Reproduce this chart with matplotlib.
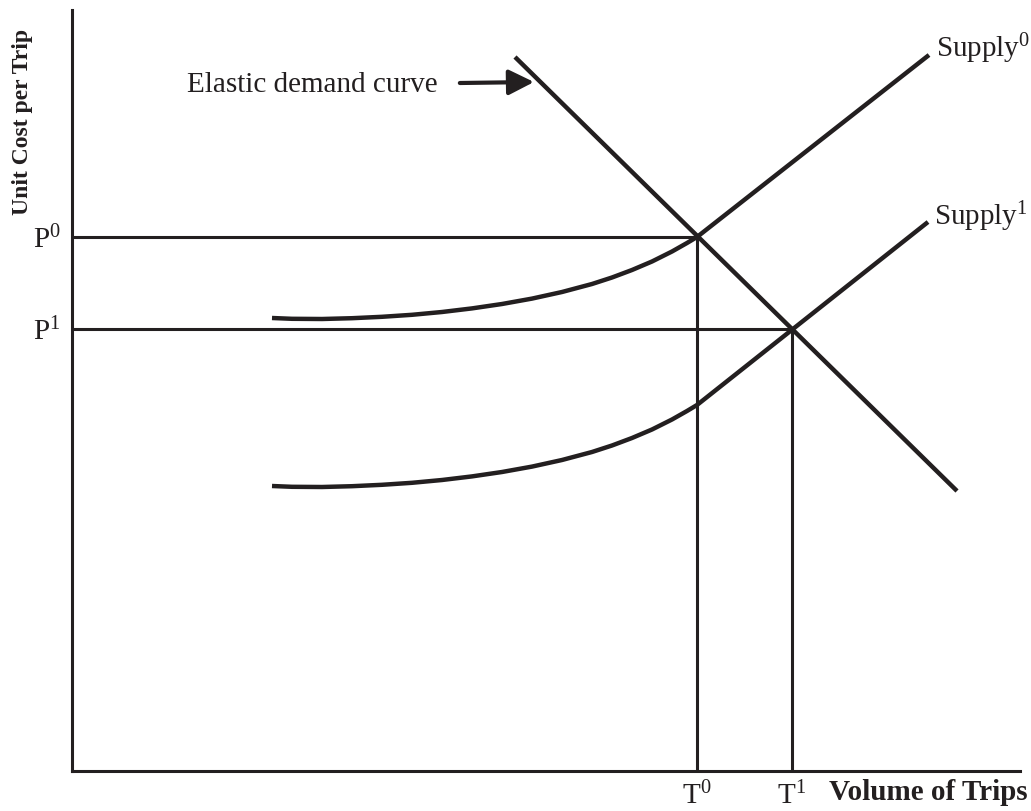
#!/usr/bin/env python3
"""
Supply shift with an elastic demand curve: unit cost per trip
against volume of trips.
"""
import matplotlib.pyplot as plt

plt.rcParams['font.family'] = ['Liberation Serif', 'DejaVu Serif']
plt.rcParams['mathtext.default'] = 'regular'

INK = '#231f20'

# equilibrium prices and volumes
price_labels = ['P$^{1}$', 'P$^{0}$']
prices = [44.2, 53.4]
volume_labels = ['T$^{0}$', 'T$^{1}$']
volumes = [62.5, 72.0]

# elastic demand curve (straight line)
demand_x = [44.3, 88.5]
demand_y = [71.4, 28.0]

# original supply curve: flat, rising, then linear past T0
supply0_x = [20.0, 22.0, 25.0, 28.0, 31.0, 34.0, 37.0, 40.0, 43.0, 46.0,
             49.0, 52.0, 54.0, 56.0, 58.0, 60.0, 61.5, 62.5, 85.7]
supply0_y = [45.30, 45.22, 45.20, 45.28, 45.42, 45.62, 45.90, 46.26, 46.70,
             47.24, 47.90, 48.70, 49.35, 50.10, 50.95, 51.95, 52.80, 53.40,
             71.60]

# shifted supply curve
supply1_x = [20.0, 22.0, 25.0, 28.0, 31.0, 34.0, 37.0, 40.0, 43.0, 46.0,
             49.0, 52.0, 54.0, 56.0, 58.0, 60.0, 61.5, 62.5, 85.6]
supply1_y = [28.50, 28.42, 28.40, 28.48, 28.62, 28.82, 29.10, 29.46, 29.90,
             30.44, 31.10, 31.90, 32.55, 33.30, 34.15, 35.15, 36.00, 36.60,
             54.90]

fig = plt.figure(figsize=(10.31, 8.11), dpi=100)
ax = fig.add_axes([72 / 1031, 40 / 811, 948 / 1031, 761 / 811])
ax.set_xlim(0, 94.8)
ax.set_ylim(0, 76.1)

for side in ['top', 'right']:
    ax.spines[side].set_visible(False)
for side in ['left', 'bottom']:
    ax.spines[side].set_linewidth(2.2)
    ax.spines[side].set_color(INK)

# reference lines from axes to the equilibria
ax.plot([0, volumes[0]], [prices[1], prices[1]], color=INK, lw=2.2)
ax.plot([0, volumes[1]], [prices[0], prices[0]], color=INK, lw=2.2)
ax.plot([volumes[0], volumes[0]], [0, prices[1]], color=INK, lw=2.2)
ax.plot([volumes[1], volumes[1]], [0, prices[0]], color=INK, lw=2.2)

curve_style = dict(color=INK, lw=3.2, solid_capstyle='butt',
                   solid_joinstyle='round')
ax.plot(demand_x, demand_y, **curve_style)
ax.plot(supply0_x, supply0_y, **curve_style)
ax.plot(supply1_x, supply1_y, **curve_style)

ax.set_yticks(prices)
ax.set_yticklabels(price_labels, fontsize=21)
ax.set_xticks(volumes)
ax.set_xticklabels(volume_labels, fontsize=21)
ax.tick_params(length=0, pad=8, colors=INK)

ax.text(86.4, 71.4, 'Supply$^{0}$', fontsize=21, color=INK,
        va='baseline', clip_on=False)
ax.text(86.2, 54.6, 'Supply$^{1}$', fontsize=21, color=INK,
        va='baseline', clip_on=False)

ax.annotate('Elastic demand curve', xy=(46.2, 68.9), xytext=(11.5, 67.9),
            fontsize=21, color=INK, va='baseline',
            arrowprops=dict(arrowstyle='-|>,head_length=0.7,head_width=0.35',
                            lw=3, color=INK, mutation_scale=22,
                            shrinkA=14, shrinkB=0))

fig.text(1028 / 1031, 11 / 811, 'Volume of Trips', fontsize=21,
         fontweight='bold', color=INK, ha='right', va='baseline')
fig.text(23 / 1031, 1 - 122 / 811, 'Unit Cost per Trip', fontsize=17,
         fontweight='bold', color=INK, rotation=90, ha='center', va='center')

fig.savefig('out.png', dpi=100)
